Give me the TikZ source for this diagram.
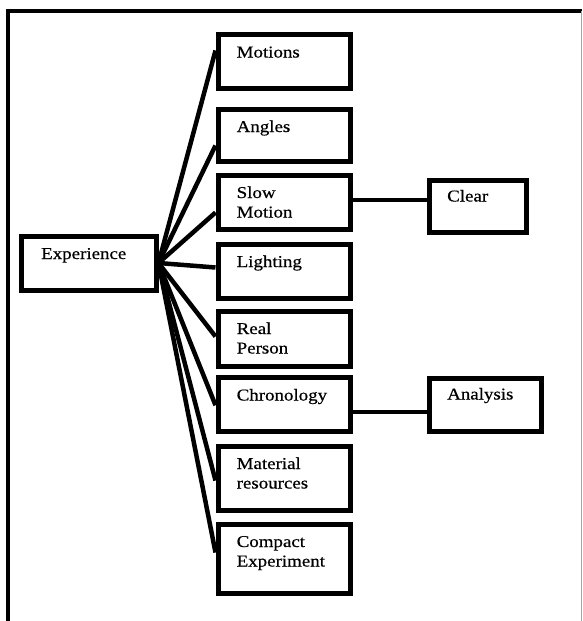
\documentclass[tikz,border=0pt]{standalone}
\usepackage{fontspec}
\setmainfont{Liberation Serif}[FakeStretch=1.14, FakeBold=0.5]
\usetikzlibrary{calc}
\newcommand{\twolines}[2]{\vtop{\hbox{#1}\hbox{#2}}}
\begin{document}
\begin{tikzpicture}[x=1pt,y=-1pt,
  box/.style={draw, fill=white, line width=5pt, inner sep=0pt, anchor=north west},
  lbl/.style={inner sep=0pt, anchor=base west, font=\fontsize{16.6}{19.5}\selectfont},
  link/.style={line width=4.5pt},
  frameline/.style={line width=3.8pt}]
\useasboundingbox (0,0) rectangle (582,621);

% outer frame
\draw[frameline] (5.5,10.7) -- (582,10.7);
\draw[line width=4pt] (7.5,9) -- (7.5,621);
\draw[black!35, line width=1pt] (581,11) -- (581,621);

% boxes
\node[box, minimum width=135, minimum height=54] (exp) at (18.5,233.5) {};
\node[box, minimum width=132, minimum height=53.5] (mot) at (215.5,32) {};
\node[box, minimum width=132, minimum height=52] (ang) at (215.5,106.5) {};
\node[box, minimum width=132, minimum height=54] (slo) at (215.5,172.5) {};
\node[box, minimum width=132, minimum height=54] (lig) at (215.5,241.5) {};
\node[box, minimum width=132, minimum height=55] (rea) at (215.5,308.5) {};
\node[box, minimum width=132, minimum height=53.5] (chr) at (215.5,375) {};
\node[box, minimum width=132, minimum height=64] (mat) at (215.5,443.5) {};
\node[box, minimum width=132, minimum height=69] (com) at (215.5,521.5) {};
\node[box, minimum width=97, minimum height=52] (cle) at (426.5,177.5) {};
\node[box, minimum width=112, minimum height=53] (ana) at (426.5,375.5) {};

% fan of connectors from Experience
\foreach \n/\d in {mot/-10.75, ang/10.5, slo/10.5, lig/-3.5, rea/-2, chr/1, mat/2.5, com/-6}
  \draw[link] (exp.east) -- ($(\n.west)+(0,\d)$);

% side connectors
\draw[link] (slo.east |- 0,200) -- (cle.west |- 0,200);
\draw[link] (chr.east |- 0,412) -- (ana.west |- 0,412);

% labels
\node[lbl] (texp) at ($(exp.north west)+(22.5,25.5)$) {Experience};
\node[lbl] (tmot) at ($(mot.north west)+(21,25.5)$) {Motions};
\node[lbl] (tang) at ($(ang.north west)+(21,25.5)$) {Angles};
\node[lbl] (tslo) at ($(slo.north west)+(21,25.5)$) {\twolines{Slow}{Motion}};
\node[lbl] (tlig) at ($(lig.north west)+(21,25.5)$) {Lighting};
\node[lbl] (trea) at ($(rea.north west)+(21,25.5)$) {\twolines{Real}{Person}};
\node[lbl] (tchr) at ($(chr.north west)+(21,25.5)$) {Chronology};
\node[lbl] (tmat) at ($(mat.north west)+(21,25.5)$) {\twolines{Material}{resources}};
\node[lbl] (tcom) at ($(com.north west)+(21,25.5)$) {\twolines{Compact}{Experiment}};
\node[lbl] (tcle) at ($(cle.north west)+(20.5,24)$) {Clear};
\node[lbl] (tana) at ($(ana.north west)+(20.5,24)$) {Analysis};
\end{tikzpicture}
\end{document}
